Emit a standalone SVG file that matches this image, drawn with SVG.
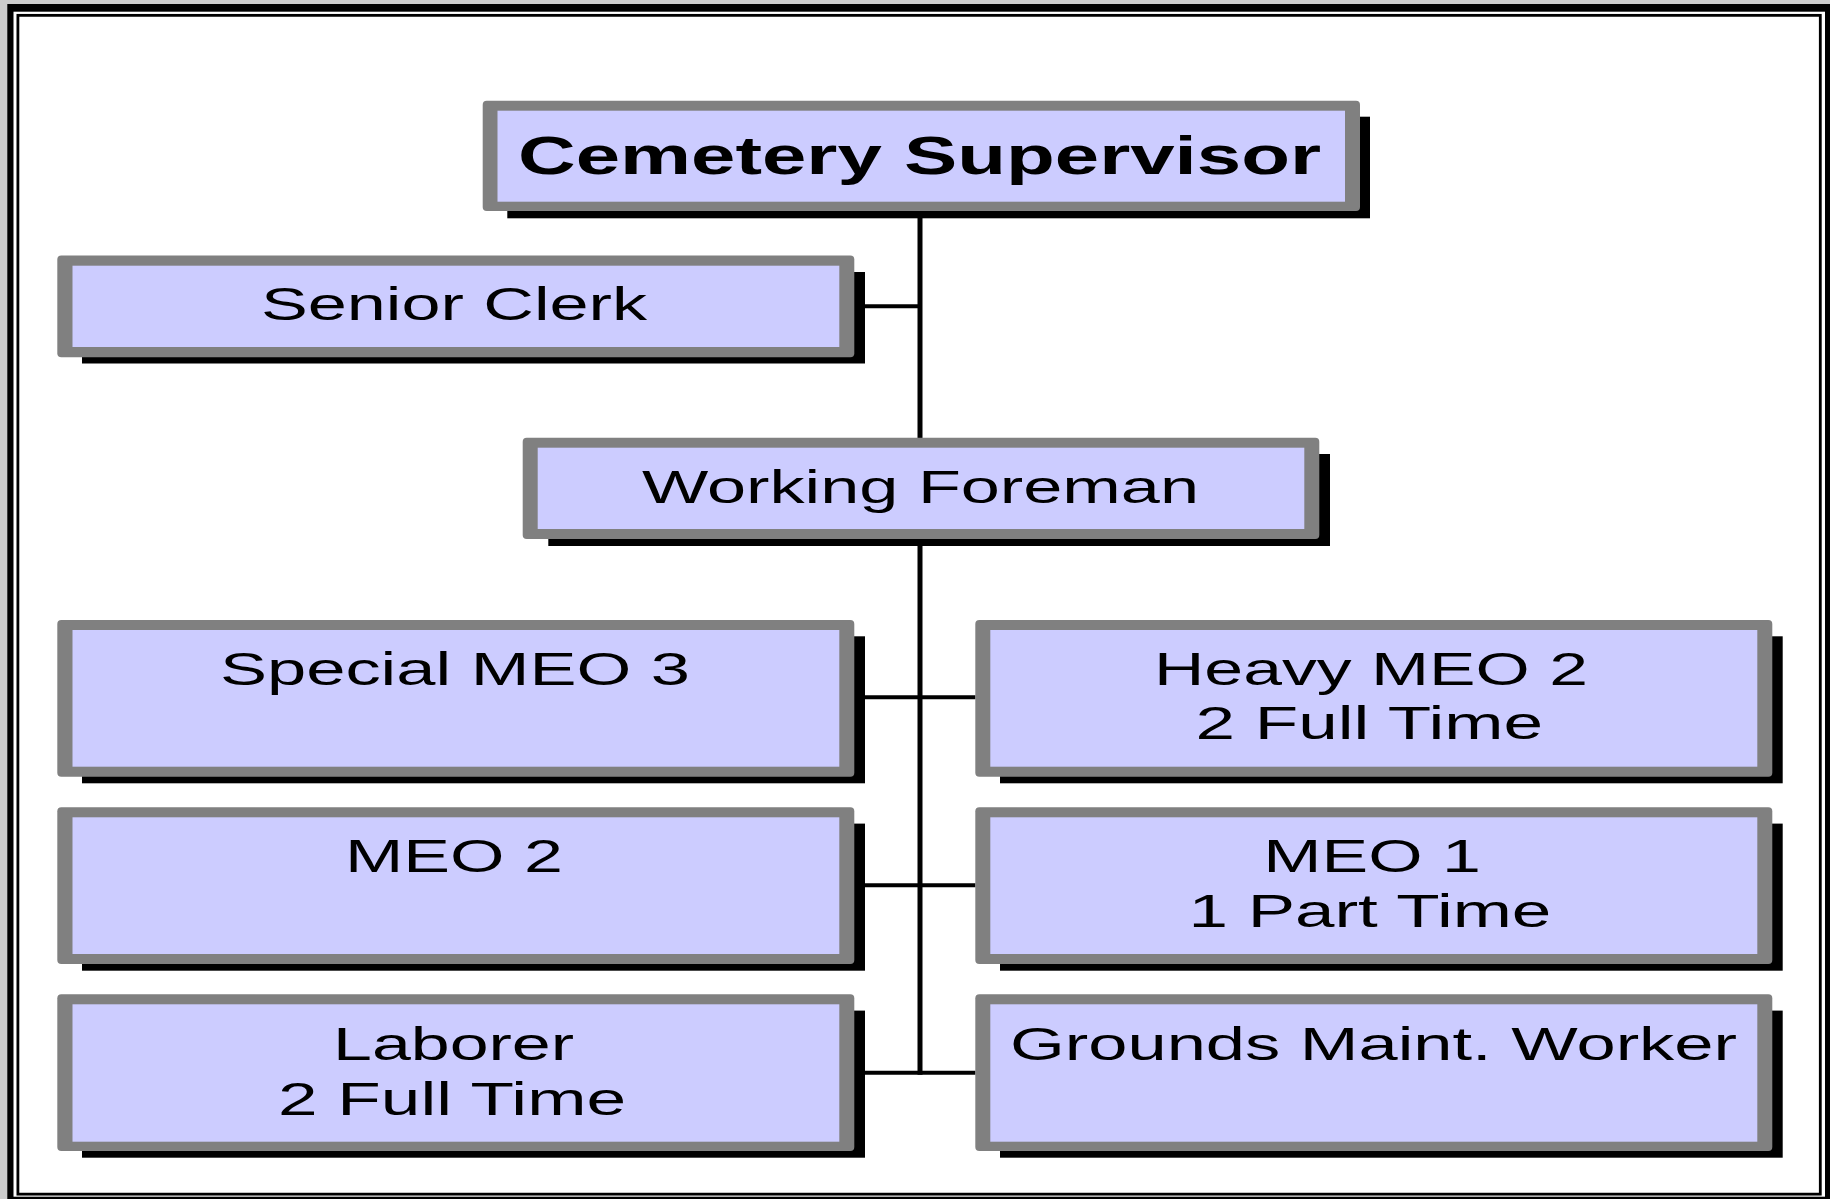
<svg xmlns="http://www.w3.org/2000/svg" width="1830" height="1199" viewBox="0 0 1830 1199">
<style>
.frame-out{fill:#cccccc}
.shadow{fill:#000000}
.border{fill:#808080}
.fill{fill:#ccccff}
.conn{stroke:#000000;fill:none}
text{font-family:"Liberation Sans",Arial,sans-serif;font-size:46px;fill:#000000}
.title{font-weight:bold;font-size:54px}
</style>
<rect class="frame-out" x="0" y="0" width="1830" height="1199"/>
<rect x="7.3" y="4" width="1822.7" height="1195" fill="#000000"/>
<rect x="13.5" y="11.7" width="1811.5" height="1185" fill="#ffffff"/>
<rect x="17.9" y="15.35" width="1802.4" height="1178.8" fill="#ffffff" stroke="#000000" stroke-width="2.8"/>

<g id="connectors">
<line class="conn" x1="920" y1="211" x2="920" y2="1074.7" stroke-width="5"/>
<line class="conn" x1="854" y1="306.2" x2="920" y2="306.2" stroke-width="4"/>
<line class="conn" x1="854" y1="697.3" x2="975.5" y2="697.3" stroke-width="4"/>
<line class="conn" x1="854" y1="885.3" x2="975.5" y2="885.3" stroke-width="4"/>
<line class="conn" x1="854" y1="1072.7" x2="975.5" y2="1072.7" stroke-width="4"/>
</g>

<g id="cemetery-supervisor">
<rect class="shadow" x="507.3" y="116.7" width="862.7" height="101.6"/>
<rect class="border" x="482.7" y="100.7" width="877.3" height="110.3" rx="4"/>
<rect class="fill" x="497.5" y="110.7" width="847.5" height="91"/>
<text class="title" x="518" y="173.5" textLength="803" lengthAdjust="spacingAndGlyphs">Cemetery Supervisor</text>
</g>

<g id="senior-clerk">
<rect class="shadow" x="82" y="272" width="783" height="91.5"/>
<rect class="border" x="57.3" y="255.5" width="797" height="101.8" rx="4"/>
<rect class="fill" x="72.5" y="265.7" width="766.8" height="81.3"/>
<text x="261" y="320" textLength="386" lengthAdjust="spacingAndGlyphs">Senior Clerk</text>
</g>

<g id="working-foreman">
<rect class="shadow" x="548.3" y="454" width="781.7" height="92"/>
<rect class="border" x="522.7" y="437.7" width="796.6" height="101.3" rx="4"/>
<rect class="fill" x="537.7" y="447.7" width="766.6" height="81.3"/>
<text x="642" y="503.3" textLength="557" lengthAdjust="spacingAndGlyphs">Working Foreman</text>
</g>

<g id="special-meo-3">
<rect class="shadow" x="82" y="636.3" width="783" height="147"/>
<rect class="border" x="57.3" y="620" width="797" height="156.7" rx="4"/>
<rect class="fill" x="72.5" y="630" width="766.8" height="136.7"/>
<text x="220" y="685" textLength="470" lengthAdjust="spacingAndGlyphs">Special MEO 3</text>
</g>

<g id="heavy-meo-2">
<rect class="shadow" x="1000" y="636.3" width="782.7" height="147"/>
<rect class="border" x="975.3" y="620" width="797" height="156.7" rx="4"/>
<rect class="fill" x="990.3" y="630" width="767" height="136.7"/>
<text x="1154" y="685" textLength="434" lengthAdjust="spacingAndGlyphs">Heavy MEO 2</text>
<text x="1195.5" y="739" textLength="347.5" lengthAdjust="spacingAndGlyphs">2 Full Time</text>
</g>

<g id="meo-2">
<rect class="shadow" x="82" y="823.6" width="783" height="147.1"/>
<rect class="border" x="57.3" y="807.3" width="797" height="156.7" rx="4"/>
<rect class="fill" x="72.5" y="817.3" width="766.8" height="136.7"/>
<text x="345" y="872.3" textLength="218" lengthAdjust="spacingAndGlyphs">MEO 2</text>
</g>

<g id="meo-1">
<rect class="shadow" x="1000" y="823.6" width="782.7" height="147.1"/>
<rect class="border" x="975.3" y="807.3" width="797" height="156.7" rx="4"/>
<rect class="fill" x="990.3" y="817.3" width="767" height="136.7"/>
<text x="1263.3" y="871.8" textLength="217.6" lengthAdjust="spacingAndGlyphs">MEO 1</text>
<text x="1188.5" y="927.3" textLength="362.8" lengthAdjust="spacingAndGlyphs">1 Part Time</text>
</g>

<g id="laborer">
<rect class="shadow" x="82" y="1010.6" width="783" height="147.1"/>
<rect class="border" x="57.3" y="994.3" width="797" height="156.7" rx="4"/>
<rect class="fill" x="72.5" y="1004.3" width="766.8" height="137.4"/>
<text x="333" y="1060" textLength="241" lengthAdjust="spacingAndGlyphs">Laborer</text>
<text x="278" y="1115" textLength="348" lengthAdjust="spacingAndGlyphs">2 Full Time</text>
</g>

<g id="grounds-maint-worker">
<rect class="shadow" x="1000" y="1010.6" width="782.7" height="147.1"/>
<rect class="border" x="975.3" y="994.3" width="797" height="156.7" rx="4"/>
<rect class="fill" x="990.3" y="1004.3" width="767" height="137.4"/>
<text x="1010" y="1059.5" textLength="727" lengthAdjust="spacingAndGlyphs">Grounds Maint. Worker</text>
</g>
</svg>
